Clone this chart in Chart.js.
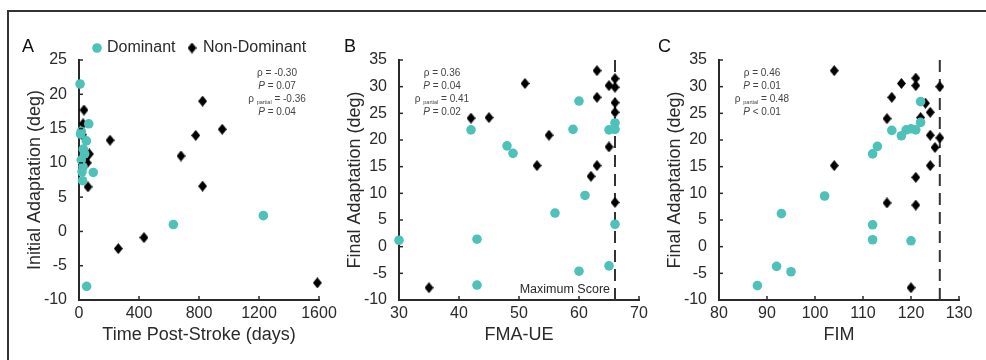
<!DOCTYPE html>
<html>
<head>
<meta charset="utf-8">
<script src="https://cdn.jsdelivr.net/npm/chart.js@4.4.1/dist/chart.umd.min.js"></script>
<style>
    body { margin: 0; background: #fff; width: 986px; height: 360px; overflow: hidden; position: relative; }
    .frame { position: absolute; left: 7px; top: 10px; width: 977px; height: 360px;
             border-top: 2px solid #333; border-left: 2px solid #333; }
    canvas { position: absolute; top: 0; }
</style>
</head>
<body>
<div class="frame"></div>
<canvas id="chartA" width="346" height="360" style="left:0px"></canvas>
<canvas id="chartB" width="346" height="360" style="left:320px"></canvas>
<canvas id="chartC" width="346" height="360" style="left:640px"></canvas>
<script>
/* =========================
   DATA
========================== */
const seriesLabels = ["Dominant", "Non-Dominant"];

// A: time post-stroke (days) vs initial adaptation (deg)
const timeTicks = [0, 400, 800, 1200, 1600];
const initTicks = [-10, -5, 0, 5, 10, 15, 20, 25];
const domTime = [7, 65, 15, 10, 49, 29, 38, 15, 27, 95, 20, 24, 51, 629, 1229];
const domInit = [21.5, 15.7, 14.6, 14.2, 13.2, 12.0, 11.3, 10.4, 9.4, 8.6, 8.7, 7.4, -8.0, 1.0, 2.3];
const nonTime = [33, 27, 20, 69, 55, 45, 60, 207, 680, 778, 824, 955, 824, 262, 433, 1589];
const nonInit = [17.7, 15.7, 14.1, 11.3, 10.0, 10.6, 6.5, 13.3, 11.0, 14.0, 19.0, 14.9, 6.6, -2.5, -0.9, -7.5];

// B: FMA-UE vs final adaptation (deg)
const fmaTicks = [30, 40, 50, 60, 70];
const finalTicks = [-10, -5, 0, 5, 10, 15, 20, 25, 30, 35];
const fmaMax = 66;
const domFma = [42, 48, 49, 59, 60, 65, 66, 66, 61, 56, 66, 30, 43, 43, 60, 65];
const domFmaFinal = [21.9, 18.9, 17.5, 22.0, 27.3, 21.9, 23.2, 22.0, 9.6, 6.3, 4.2, 1.2, 1.4, -7.2, -4.6, -3.6];
const nonFma = [42, 45, 51, 55, 53, 63, 63, 65, 66, 66, 66, 66, 65, 63, 62, 66, 35];
const nonFmaFinal = [24.1, 24.2, 30.6, 20.9, 15.2, 33.0, 28.0, 30.2, 31.5, 29.9, 27.0, 25.2, 18.7, 15.2, 13.2, 8.3, -7.7];

// C: FIM vs final adaptation (deg)
const fimTicks = [80, 90, 100, 110, 120, 130];
const fimMax = 126;
const domFim = [88, 92, 95, 93, 102, 112, 112, 120, 112, 113, 116, 118, 119, 120, 121, 122, 122];
const domFimFinal = [-7.3, -3.7, -4.7, 6.2, 9.5, 4.1, 1.3, 1.1, 17.4, 18.8, 21.8, 20.8, 21.9, 22.1, 21.9, 23.3, 27.2];
const nonFim = [104, 104, 115, 116, 118, 121, 121, 123, 122, 124, 124, 125, 126, 126, 124, 121, 115, 121, 120];
const nonFimFinal = [33.0, 15.2, 24.0, 28.0, 30.6, 31.6, 30.2, 26.9, 24.2, 25.2, 20.9, 18.6, 30.0, 20.4, 15.2, 13.0, 8.2, 7.8, -7.7];

// correlation stats: rho, P, rho partial, P
const statsA = ["-0.30", "= 0.07", "-0.36", "= 0.04"];
const statsB = ["0.36", "= 0.04", "0.41", "= 0.02"];
const statsC = ["0.46", "= 0.01", "0.48", "< 0.01"];

/* =========================
   STYLE
========================== */
const TEAL = "#4ec2b8";
const INK = "#2a2a2a";
const FONT = "'Liberation Sans', Arial, sans-serif";

function makeDiamond(w, h) {
    const c = document.createElement("canvas");
    c.width = w; c.height = h;
    const g = c.getContext("2d");
    g.fillStyle = "#000";
    g.beginPath();
    g.moveTo(w / 2, 0); g.lineTo(w, h / 2); g.lineTo(w / 2, h); g.lineTo(0, h / 2);
    g.closePath(); g.fill();
    return c;
}
const DIAMOND = makeDiamond(9, 11);

const pairs = (xs, ys) => xs.map((x, i) => ({ x, y: ys[i] }));

/* =========================
   DECORATION PLUGIN
========================== */
function drawNote(ctx, cx, y, parts) {
    let total = 0;
    parts.forEach(p => { ctx.font = p.font; p.w = ctx.measureText(p.text).width; total += p.w; });
    let x = cx - total / 2;
    parts.forEach(p => {
        ctx.font = p.font;
        ctx.fillText(p.text, x, y + (p.dy || 0));
        x += p.w;
    });
}

function decor(cfg) {
    return {
        id: "decor",
        beforeDatasetsDraw(chart) {
            if (cfg.maxScore === undefined) return;
            const { ctx, chartArea, scales } = chart;
            const px = scales.x.getPixelForValue(cfg.maxScore);
            ctx.save();
            ctx.strokeStyle = "#333";
            ctx.lineWidth = 2;
            ctx.setLineDash([12, 7]);
            ctx.beginPath();
            ctx.moveTo(px, chartArea.top);
            ctx.lineTo(px, chartArea.bottom);
            ctx.stroke();
            ctx.restore();
        },
        afterDraw(chart) {
            const { ctx, chartArea, scales } = chart;
            ctx.save();

            // inward ticks
            ctx.strokeStyle = INK;
            ctx.lineWidth = 1.5;
            scales.x.ticks.forEach(t => {
                const px = scales.x.getPixelForValue(t.value);
                ctx.beginPath();
                ctx.moveTo(px, chartArea.bottom);
                ctx.lineTo(px, chartArea.bottom - 4);
                ctx.stroke();
            });
            scales.y.ticks.forEach(t => {
                const py = scales.y.getPixelForValue(t.value);
                ctx.beginPath();
                ctx.moveTo(chartArea.left, py);
                ctx.lineTo(chartArea.left + 4, py);
                ctx.stroke();
            });

            // panel letter
            ctx.fillStyle = "#111";
            ctx.textBaseline = "middle";
            ctx.textAlign = "left";
            ctx.font = "18px " + FONT;
            ctx.fillText(cfg.letter, cfg.letterX, 47);

            // stats
            const s = cfg.stats;
            const f = "10px " + FONT, fi = "italic 10px " + FONT, fs = "5.5px " + FONT;
            const cx = chartArea.left + cfg.noteX;
            ctx.fillStyle = "#444";
            drawNote(ctx, cx, 73, [{ text: "\u03c1 = " + s[0], font: f }]);
            drawNote(ctx, cx, 86, [{ text: "P", font: fi }, { text: " " + s[1], font: f }]);
            drawNote(ctx, cx, 99.5, [{ text: "\u03c1 ", font: f }, { text: "partial", font: fs, dy: 3 },
                                     { text: " = " + s[2], font: f }]);
            drawNote(ctx, cx, 112.5, [{ text: "P", font: fi }, { text: " " + s[3], font: f }]);

            // max score label
            if (cfg.maxLabel) {
                const px = scales.x.getPixelForValue(cfg.maxScore);
                ctx.fillStyle = INK;
                ctx.textAlign = "right";
                ctx.font = "12.5px " + FONT;
                ctx.fillText(cfg.maxLabel, px - 5, chartArea.bottom - 10);
            }

            // legend
            if (cfg.legend) {
                ctx.textAlign = "left";
                ctx.font = "16px " + FONT;
                ctx.fillStyle = TEAL;
                ctx.beginPath();
                ctx.arc(97, 48, 4.8, 0, Math.PI * 2);
                ctx.fill();
                ctx.fillStyle = INK;
                ctx.fillText(seriesLabels[0], 107, 48);
                ctx.drawImage(DIAMOND, 192 - 4.5, 48 - 5.5);
                ctx.fillText(seriesLabels[1], 203, 48);
            }
            ctx.restore();
        }
    };
}

/* =========================
   CHART FACTORY
========================== */
function makeChart(id, p) {
    const ctx = document.getElementById(id).getContext("2d");
    return new Chart(ctx, {
        type: "scatter",
        data: {
            datasets: [
                {
                    label: seriesLabels[0],
                    data: p.dom,
                    pointStyle: "circle",
                    pointRadius: 4.8,
                    pointBorderWidth: 0,
                    backgroundColor: TEAL,
                    clip: false
                },
                {
                    label: seriesLabels[1],
                    data: p.non,
                    pointStyle: DIAMOND,
                    pointRadius: 5,
                    backgroundColor: "#000",
                    clip: false
                }
            ]
        },
        options: {
            responsive: false,
            animation: false,
            devicePixelRatio: 1,
            layout: { autoPadding: false, padding: { top: 60, right: 27, bottom: 0, left: 0 } },
            plugins: { legend: { display: false }, tooltip: { enabled: false } },
            scales: {
                x: {
                    type: "linear",
                    min: p.xTicks[0],
                    max: p.xTicks[p.xTicks.length - 1],
                    afterBuildTicks: s => { s.ticks = p.xTicks.map(v => ({ value: v })); },
                    afterFit: s => { s.height = 60; s.paddingLeft = 0; s.paddingRight = 0; },
                    grid: { display: false, drawTicks: false },
                    border: { color: INK, width: 2 },
                    ticks: { color: INK, font: { size: 16, family: FONT }, padding: 4, maxRotation: 0,
                             callback: v => String(v) },
                    title: { display: true, text: p.xTitle, color: INK,
                             font: { size: 18, family: FONT }, padding: { top: 0, bottom: 14 } }
                },
                y: {
                    type: "linear",
                    min: p.yTicks[0],
                    max: p.yTicks[p.yTicks.length - 1],
                    afterBuildTicks: s => { s.ticks = p.yTicks.map(v => ({ value: v })); },
                    afterFit: s => { s.width = 79; s.paddingTop = 0; s.paddingBottom = 0; },
                    grid: { display: false, drawTicks: false },
                    border: { color: INK, width: 2 },
                    ticks: { color: INK, font: { size: 16, family: FONT }, padding: 12,
                             callback: v => String(v) },
                    title: { display: true, text: p.yTitle, color: INK,
                             font: { size: 18, family: FONT }, padding: { top: 24, bottom: 0 } }
                }
            }
        },
        plugins: [decor(p.decor)]
    });
}

makeChart("chartA", {
    dom: pairs(domTime, domInit),
    non: pairs(nonTime, nonInit),
    xTicks: timeTicks, yTicks: initTicks,
    xTitle: "Time Post-Stroke (days)", yTitle: "Initial Adaptation (deg)",
    decor: { letter: "A", letterX: 22, stats: statsA, noteX: 198, legend: true }
});

makeChart("chartB", {
    dom: pairs(domFma, domFmaFinal),
    non: pairs(nonFma, nonFmaFinal),
    xTicks: fmaTicks, yTicks: finalTicks,
    xTitle: "FMA-UE", yTitle: "Final Adaptation (deg)",
    decor: { letter: "B", letterX: 24, stats: statsB, noteX: 43, maxScore: fmaMax, maxLabel: "Maximum Score" }
});

makeChart("chartC", {
    dom: pairs(domFim, domFimFinal),
    non: pairs(nonFim, nonFimFinal),
    xTicks: fimTicks, yTicks: finalTicks,
    xTitle: "FIM", yTitle: "Final Adaptation (deg)",
    decor: { letter: "C", letterX: 18, stats: statsC, noteX: 43, maxScore: fimMax }
});
</script>
</body>
</html>
